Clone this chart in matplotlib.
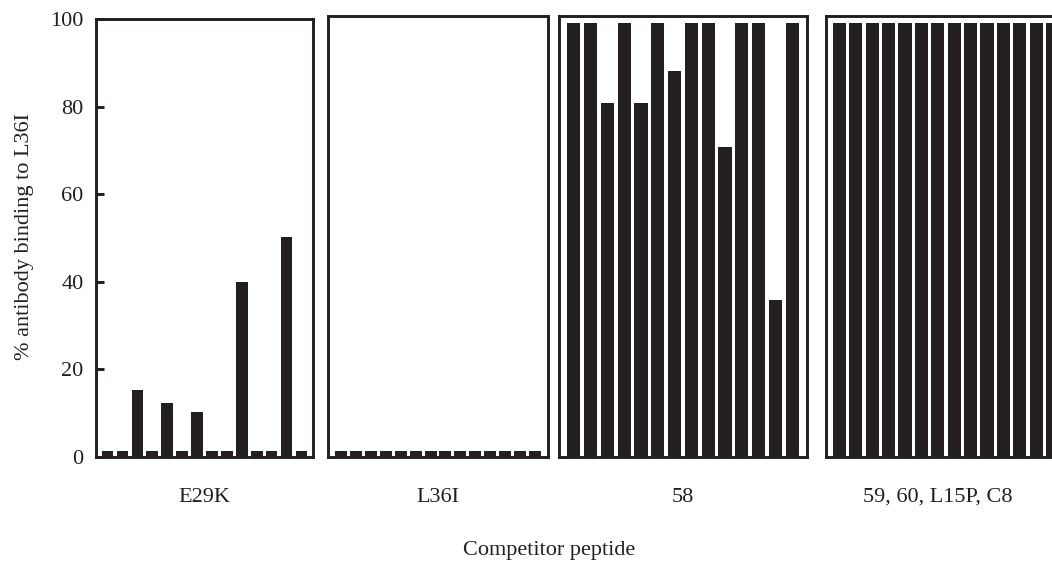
import numpy as np
import matplotlib.pyplot as plt

# % antibody binding to L36I for each competitor peptide
e29k = [1.3, 1.3, 15.3, 1.3, 12.4, 1.3, 10.3, 1.3, 1.3, 40.0, 1.3, 1.3, 50.2, 1.3]
l36i = [1.3, 1.3, 1.3, 1.3, 1.3, 1.3, 1.3, 1.3, 1.3, 1.3, 1.3, 1.3, 1.3, 1.3]
p58 = [99.2, 99.2, 80.9, 99.2, 80.9, 99.2, 88.3, 99.2, 99.2, 70.9, 99.2, 99.2, 35.8, 99.2]
p59_etc = [99.2, 99.2, 99.2, 99.2, 99.2, 99.2, 99.2, 99.2, 99.2, 99.2, 99.2, 99.2, 99.2, 99.2]

groups = ['E29K', 'L36I', '58', '59, 60, L15P, C8']
yticks = [0, 20, 40, 60, 80, 100]

W, H = 1052, 562
dark = '#231f20'

plt.rcParams['font.family'] = ['Liberation Serif', 'DejaVu Serif']
fig = plt.figure(figsize=(W / 100, H / 100), dpi=100)

# panel boxes in pixels: left, right, top, bottom, xpad, bar width
boxes = [(96, 313, 19.3, 457, 0.77, 0.78),
         (328, 548, 16, 457, 0.85, 0.80),
         (559, 807, 16, 457, 0.88, 0.79),
         (826, 1066, 16, 457, 0.81, 0.80)]
data = [e29k, l36i, p58, p59_etc]
label_x = [204, 438, 683, 938]

for i, (l, r, t, b, pad, bw) in enumerate(boxes):
    ax = fig.add_axes([l / W, 1 - b / H, (r - l) / W, (b - t) / H])
    vals = data[i]
    x = np.arange(len(vals))
    ax.bar(x, vals, width=bw, color=dark, linewidth=0)
    ax.set_xlim(-pad, len(vals) - 1 + pad)
    top = 100 if i == 0 else 100.0 * (b - t) / (b - 19.3)
    ax.set_ylim(0, top)
    for s in ax.spines.values():
        s.set_linewidth(2.1)
        s.set_color(dark)
    ax.set_xticks([])
    if i == 0:
        ax.set_yticks(yticks)
        ax.tick_params(axis='y', direction='in', length=6, width=2.1,
                       color=dark, labelsize=16, labelcolor=dark, pad=9)
    else:
        ax.set_yticks([])
    fig.text(label_x[i] / W, 1 - 497 / H, groups[i], ha='center', va='center',
             fontsize=16, color=dark)

fig.text(25 / W, 1 - 236 / H, '% antibody binding to L36I', rotation=90,
         ha='center', va='center', fontsize=16, color=dark)
fig.text(549 / W, 1 - 551 / H, 'Competitor peptide', ha='center', va='center',
         fontsize=16, color=dark)

fig.savefig('out.png', dpi=100)
